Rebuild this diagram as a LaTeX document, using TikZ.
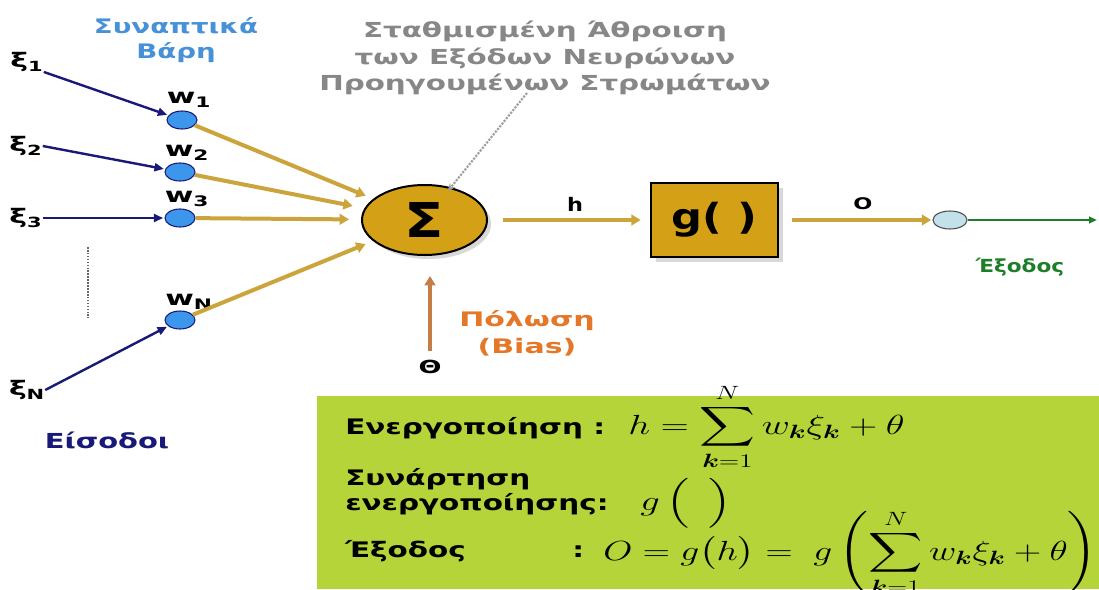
\documentclass[tikz,border=0pt]{standalone}
\usepackage[no-math]{fontspec}
\setmainfont{DejaVu Sans}[FakeStretch=1.4]
\usepackage{amsmath,bm,graphicx}
\usetikzlibrary{shapes.geometric,arrows.meta,shadows}
\definecolor{navyc}{RGB}{25,25,120}
\definecolor{goldc}{RGB}{204,164,60}
\definecolor{goldfill}{RGB}{212,160,22}
\definecolor{wblue}{RGB}{60,150,235}
\definecolor{tblue}{RGB}{70,145,215}
\definecolor{biasc}{RGB}{196,125,70}
\definecolor{biastxt}{RGB}{228,120,40}
\definecolor{outg}{RGB}{30,125,40}
\definecolor{outfill}{RGB}{195,225,235}
\definecolor{panel}{RGB}{180,212,58}
\definecolor{graytxt}{RGB}{135,135,135}
\newcommand{\mwide}[1]{\scalebox{1.4}[1]{#1}}
\begin{document}
\begin{tikzpicture}[x=0.75pt,y=-0.75pt,
  every node/.style={inner sep=0pt},
  weight/.style={ellipse, minimum width=22.5pt, minimum height=13.5pt, fill=wblue, draw=navyc, line width=0.8pt},
  inlbl/.style={font=\fontsize{15}{17}\selectfont\bfseries\addfontfeatures{FakeStretch=1.5}},
  wlbl/.style={font=\fontsize{15.5}{17}\selectfont\bfseries\addfontfeatures{FakeStretch=1.5}},
  navyarrow/.style={draw=navyc, line width=1.8pt, -{Triangle[length=7pt,width=6pt]}, shorten >=1pt},
  goldarrow/.style={draw=goldc, line width=3pt, -{Triangle[length=7pt,width=8pt]}},
  sumnode/.style={ellipse, minimum width=93.75pt, minimum height=52.5pt, fill=goldfill, draw=black, line width=1.5pt,
     drop shadow={shadow xshift=3pt, shadow yshift=-3pt, fill=gray!60},
     font=\fontsize{36}{36}\selectfont\bfseries\addfontfeatures{FakeStretch=1.2}},
  gnode/.style={rectangle, minimum width=95.25pt, minimum height=55.5pt, fill=goldfill, draw=black, line width=1.5pt,
     drop shadow={shadow xshift=4pt, shadow yshift=-4pt, fill=gray!60},
     font=\fontsize{27}{27}\selectfont\bfseries\addfontfeatures{FakeStretch=1.2}},
  outnode/.style={ellipse, minimum width=25.5pt, minimum height=13.5pt, fill=outfill, draw=black!70, line width=0.8pt},
  titletxt/.style={align=center, text=graytxt, font=\fontsize{15.5}{20}\selectfont\bfseries\addfontfeatures{FakeStretch=1.42}},
  wtitle/.style={align=center, text=tblue, font=\fontsize{15}{19}\selectfont\bfseries\addfontfeatures{FakeStretch=1.38}},
  biaslbl/.style={align=center, text=biastxt, font=\fontsize{15}{20}\selectfont\bfseries\addfontfeatures{FakeStretch=1.5}},
  inputslbl/.style={text=navyc, font=\fontsize{15.5}{17}\selectfont\bfseries},
  outlbl/.style={text=outg, font=\fontsize{13.5}{15}\selectfont\bfseries\addfontfeatures{FakeStretch=1.2}},
  smalllbl/.style={font=\fontsize{14}{15}\selectfont\bfseries\addfontfeatures{FakeStretch=1.2}},
  ftxt/.style={anchor=base west, font=\fontsize{16}{18}\selectfont\bfseries\addfontfeatures{FakeStretch=1.38}},
  fmath/.style={anchor=base west, font=\fontsize{20}{24}\selectfont},
  leader/.style={draw=gray!75, densely dotted, line width=1.6pt, -{Stealth[length=6pt,width=5pt,fill=gray!55]}},
  biasarrow/.style={draw=biasc, line width=3pt, -{Triangle[length=7pt,width=8pt]}},
  greenarrow/.style={draw=outg, line width=1.5pt, -{Triangle[length=6pt,width=5pt]}},
  plainarrow/.style={draw=goldc, line width=3pt, -{Triangle[length=7pt,width=8pt]}}
]
\useasboundingbox (0,0) rectangle (1099,589);
\fill[white] (0,0) rectangle (1099,589);

% formula panel
\fill[panel] (317,396) rectangle (1099,589);

% titles
\node[titletxt] (title) at (545,58) {Σταθμισμένη Άθροιση\\των Εξόδων Νευρώνων\\Προηγουμένων Στρωμάτων};
\node[wtitle] (wts) at (176,40) {Συναπτικά\\Βάρη};

% weights
\node[weight] (w1) at (182,120) {};
\node[weight] (w2) at (180,172) {};
\node[weight] (w3) at (180,218) {};
\node[weight] (wN) at (180,320) {};
\node[wlbl] (lw1) at (189,100) {w\textsubscript{1}};
\node[wlbl] (lw2) at (187,153) {w\textsubscript{2}};
\node[wlbl] (lw3) at (187,199) {w\textsubscript{3}};
\node[wlbl] (lwN) at (189,302) {w\textsubscript{N}};

% inputs
\node[inlbl] (x1) at (27,62) {ξ\textsubscript{1}};
\node[inlbl] (x2) at (26,146) {ξ\textsubscript{2}};
\node[inlbl] (x3) at (26,218) {ξ\textsubscript{3}};
\node[inlbl] (xN) at (27,390) {ξ\textsubscript{N}};
\draw[navyarrow] (x1.south east) -- (w1);
\draw[navyarrow] (x2.east) -- (w2);
\draw[navyarrow] (x3.east) -- (w3);
\draw[navyarrow] (xN.east) -- (wN);
\draw[densely dotted, line width=1.2pt, black!60] (88,247) -- (88,318);
\node[inputslbl] (inputs) at (107,440) {Είσοδοι};

% summation
\node[sumnode] (sig) at (424.5,220) {Σ};
\draw[goldarrow, shorten >=6pt] (w1) -- (sig);
\draw[goldarrow, shorten >=9pt] (w2) -- (sig);
\draw[goldarrow, shorten >=9pt] (w3) -- (sig);
\draw[goldarrow, shorten >=6pt] (wN) -- (sig);

% leader from title
\coordinate (lead) at (527,93);
\draw[leader, shorten >=-4pt] (lead) -- (sig);

% bias
\node[font=\fontsize{13.5}{15}\selectfont\bfseries\addfontfeatures{FakeStretch=1.5}] (theta) at (430,367) {Θ};
\draw[biasarrow, shorten <=7pt, shorten >=15pt] (theta) -- (theta |- sig.south);
\node[biaslbl] (bias) at (527,333) {Πόλωση\\(Bias)};

% activation
\node[gnode] (g) at (714.5,220) {g( )};
\draw[plainarrow, shorten <=11pt, shorten >=7pt] (sig) -- (g);
\node[smalllbl] (hl) at (575,204) {h};

% output
\node[outnode] (out) at (950,220) {};
\draw[plainarrow, shorten <=10pt, shorten >=1pt] (g) -- (out);
\node[font=\fontsize{12}{14}\selectfont\bfseries\addfontfeatures{FakeStretch=1.4}] (ol) at (863,204) {O};
\coordinate (outend) at (1097,220);
\draw[greenarrow] (out) -- (outend);
\node[outlbl] (outl) at (1020,267) {Έξοδος};

% formulas
\node[ftxt] (f1) at (345,434) {Ενεργοποίηση :};
\node[fmath] (m1) at (628,434) {\mwide{$h=\displaystyle\sum_{\bm{k}=1}^{N} w_{\bm k}\xi_{\bm k}+\theta$}};
\node[ftxt] (f2) at (345,485) {Συνάρτηση};
\node[ftxt] (f3) at (345,510) {ενεργοποίησης:};
\node[fmath] (m3) at (640,510) {\mwide{$g\,\Bigl(\enspace\Bigr)$}};
\node[ftxt] (f4) at (345,557) {Έξοδος};
\node[ftxt] (c4) at (572,557) {:};
\node[fmath] (m4) at (603,560) {\scalebox{1.36}[1]{$O=g\bigl(h\bigr)=\;g\left(\displaystyle\sum_{\bm k=1}^{N} w_{\bm k}\xi_{\bm k}+\theta\right)$}};
\end{tikzpicture}
\end{document}
